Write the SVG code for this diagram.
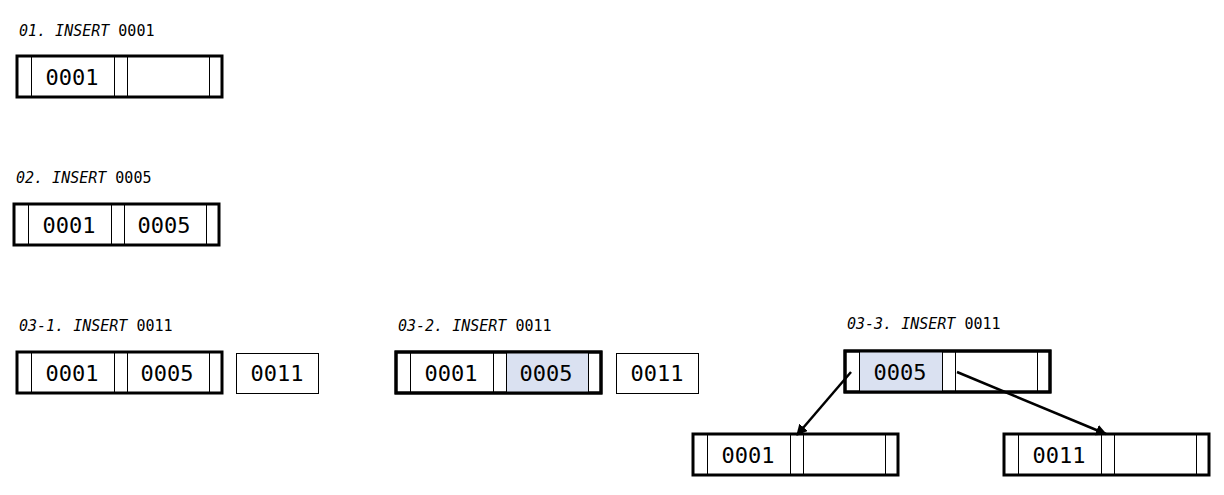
<svg xmlns="http://www.w3.org/2000/svg" width="1224" height="495" viewBox="0 0 1224 495">
<style>
.lbl{font-family:"DejaVu Sans Mono","Liberation Mono",monospace;font-size:15px;fill:#000}
.it{font-style:italic}
.key{font-family:"DejaVu Sans Mono","Liberation Mono",monospace;font-size:22px;fill:#000;text-anchor:middle}
.outer{fill:#fff;stroke:#000;stroke-width:3}
.thin{fill:#fff;stroke:#000;stroke-width:1}
.div{stroke:#000;stroke-width:1}
.hl{fill:#dae1f1}
.conn{stroke:#000;stroke-width:2.5;fill:none}
</style>
<defs>
<marker id="ah" viewBox="0 0 10 10" refX="9" refY="5" markerWidth="4.5" markerHeight="4.5" orient="auto" markerUnits="strokeWidth">
<path d="M0,0 L10,5 L0,10 z" fill="#000"/>
</marker>
<g id="cells">
<line class="div" x1="14.5" y1="0" x2="14.5" y2="41"/>
<line class="div" x1="97.5" y1="0" x2="97.5" y2="41"/>
<line class="div" x1="110.5" y1="0" x2="110.5" y2="41"/>
<line class="div" x1="192.5" y1="0" x2="192.5" y2="41"/>
</g>
</defs>

<text class="lbl" x="19" y="36"><tspan class="it">01. INSERT</tspan> 0001</text>
<text class="lbl" x="16" y="183"><tspan class="it">02. INSERT</tspan> 0005</text>
<text class="lbl" x="19" y="331"><tspan class="it">03-1. INSERT</tspan> 0011</text>
<text class="lbl" x="398" y="331"><tspan class="it">03-2. INSERT</tspan> 0011</text>
<text class="lbl" x="847" y="329"><tspan class="it">03-3. INSERT</tspan> 0011</text>

<g id="node-01" transform="translate(17,56)">
<rect class="outer" x="0" y="0" width="205" height="41"/>
<use href="#cells"/>
<text class="key" x="55" y="29">0001</text>
</g>

<g id="node-02" transform="translate(14,204)">
<rect class="outer" x="0" y="0" width="205" height="41"/>
<use href="#cells"/>
<text class="key" x="55" y="29">0001</text>
<text class="key" x="150" y="29">0005</text>
</g>

<g id="node-03-1" transform="translate(17,352)">
<rect class="outer" x="0" y="0" width="205" height="41"/>
<use href="#cells"/>
<text class="key" x="55" y="29">0001</text>
<text class="key" x="150" y="29">0005</text>
</g>
<g id="node-03-1-new" transform="translate(236,353)">
<rect class="thin" x="0.5" y="0.5" width="82" height="40"/>
<text class="key" x="41" y="28">0011</text>
</g>

<g id="node-03-2" transform="translate(396,352)">
<rect class="outer" x="0" y="0" width="205" height="41"/>
<rect class="hl" x="110.5" y="0" width="82" height="41"/>
<use href="#cells"/>
<rect x="0" y="0" width="205" height="41" fill="none" stroke="#000" stroke-width="3"/>
<text class="key" x="55" y="29">0001</text>
<text class="key" x="150" y="29">0005</text>
</g>
<g id="node-03-2-new" transform="translate(616,353)">
<rect class="thin" x="0.5" y="0.5" width="82" height="40"/>
<text class="key" x="41" y="28">0011</text>
</g>

<g id="node-03-3-root" transform="translate(845,351)">
<rect class="outer" x="0" y="0" width="205" height="41"/>
<rect class="hl" x="14.5" y="0" width="83" height="41"/>
<use href="#cells"/>
<rect x="0" y="0" width="205" height="41" fill="none" stroke="#000" stroke-width="3"/>
<text class="key" x="55" y="29">0005</text>
</g>

<g id="node-03-3-left" transform="translate(693,434)">
<rect class="outer" x="0" y="0" width="205" height="41"/>
<use href="#cells"/>
<text class="key" x="55" y="29">0001</text>
</g>

<g id="node-03-3-right" transform="translate(1004,434)">
<rect class="outer" x="0" y="0" width="205" height="41"/>
<use href="#cells"/>
<text class="key" x="55" y="29">0011</text>
</g>

<g id="connectors">
<line class="conn" x1="851" y1="372" x2="797" y2="435" marker-end="url(#ah)"/>
<line class="conn" x1="957" y1="372" x2="1106" y2="434" marker-end="url(#ah)"/>
</g>
</svg>
